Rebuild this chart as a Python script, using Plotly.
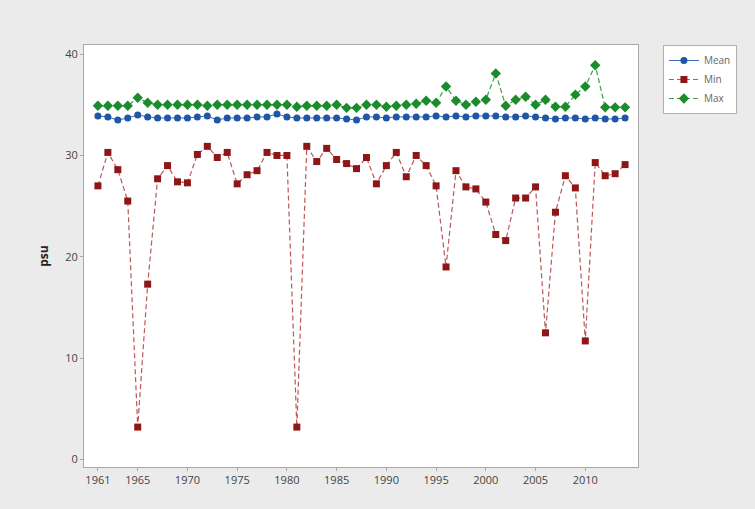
import plotly.graph_objects as go

years = [1961, 1962, 1963, 1964, 1965, 1966, 1967, 1968, 1969, 1970,
         1971, 1972, 1973, 1974, 1975, 1976, 1977, 1978, 1979, 1980,
         1981, 1982, 1983, 1984, 1985, 1986, 1987, 1988, 1989, 1990,
         1991, 1992, 1993, 1994, 1995, 1996, 1997, 1998, 1999, 2000,
         2001, 2002, 2003, 2004, 2005, 2006, 2007, 2008, 2009, 2010,
         2011, 2012, 2013, 2014]

mean_vals = [33.9, 33.8, 33.5, 33.7, 34.0, 33.8, 33.7, 33.7, 33.7, 33.7,
             33.8, 33.9, 33.5, 33.7, 33.7, 33.7, 33.8, 33.8, 34.1, 33.8,
             33.7, 33.7, 33.7, 33.7, 33.7, 33.6, 33.5, 33.8, 33.8, 33.7,
             33.8, 33.8, 33.8, 33.8, 33.9, 33.8, 33.9, 33.8, 33.9, 33.9,
             33.9, 33.8, 33.8, 33.9, 33.8, 33.7, 33.6, 33.7, 33.7, 33.6,
             33.7, 33.6, 33.6, 33.7]

min_vals = [27.0, 30.3, 28.6, 25.5, 3.2, 17.3, 27.7, 29.0, 27.4, 27.3,
            30.1, 30.9, 29.8, 30.3, 27.2, 28.1, 28.5, 30.3, 30.0, 30.0,
            3.2, 30.9, 29.4, 30.7, 29.6, 29.2, 28.7, 29.8, 27.2, 29.0,
            30.3, 27.9, 30.0, 29.0, 27.0, 19.0, 28.5, 26.9, 26.7, 25.4,
            22.2, 21.6, 25.8, 25.8, 26.9, 12.5, 24.4, 28.0, 26.8, 11.7,
            29.3, 28.0, 28.2, 29.1]

max_vals = [34.9, 34.9, 34.9, 34.9, 35.7, 35.2, 35.0, 35.0, 35.0, 35.0,
            35.0, 34.9, 35.0, 35.0, 35.0, 35.0, 35.0, 35.0, 35.0, 35.0,
            34.8, 34.9, 34.9, 34.9, 35.0, 34.7, 34.7, 35.0, 35.0, 34.8,
            34.9, 35.0, 35.1, 35.4, 35.2, 36.8, 35.4, 35.0, 35.3, 35.5,
            38.1, 34.9, 35.5, 35.8, 35.0, 35.5, 34.8, 34.8, 36.0, 36.8,
            38.9, 34.75, 34.75, 34.75]

x_ticks = [1961, 1965, 1970, 1975, 1980, 1985, 1990, 1995, 2000, 2005, 2010]
y_ticks = [0, 10, 20, 30, 40]

fig = go.Figure()
fig.add_trace(go.Scatter(
    x=years, y=mean_vals, name="Mean", mode="lines+markers",
    line=dict(color="#3a6cb8", width=1),
    marker=dict(symbol="circle", size=7, color="#1f56a8"),
))
fig.add_trace(go.Scatter(
    x=years, y=min_vals, name="Min", mode="lines+markers",
    line=dict(color="#b85858", width=1.2, dash="5px,3px"),
    marker=dict(symbol="square", size=7, color="#8e1616"),
))
fig.add_trace(go.Scatter(
    x=years, y=max_vals, name="Max", mode="lines+markers",
    line=dict(color="#3aa04a", width=1.2, dash="5px,3px"),
    marker=dict(symbol="diamond", size=8, color="#1a8c2c"),
))

fig.update_layout(
    width=755, height=509,
    margin=dict(l=84, r=117, t=45, b=42),
    paper_bgcolor="#ebebeb",
    plot_bgcolor="#ffffff",
    font=dict(family="Open Sans, Noto Sans, sans-serif", size=11, color="#444444"),
    showlegend=True,
    legend=dict(
        x=1.045, y=1.0, xanchor="left", yanchor="top",
        bgcolor="#ffffff", bordercolor="#b0b0b0", borderwidth=1,
        font=dict(size=10, color="#666666"),
        tracegroupgap=0,
    ),
    xaxis=dict(
        range=[1959.6, 2015.3],
        tickmode="array", tickvals=x_ticks, ticktext=[str(t) for t in x_ticks],
        showgrid=False, zeroline=False,
        showline=True, linecolor="#a8a8a8", linewidth=1, mirror=True,
        ticks="outside", ticklen=3, tickcolor="#a8a8a8",
    ),
    yaxis=dict(
        range=[-0.74, 40.9],
        tickmode="array", tickvals=y_ticks,
        showgrid=False, zeroline=False,
        showline=True, linecolor="#a8a8a8", linewidth=1, mirror=True,
        ticks="outside", ticklen=3, tickcolor="#a8a8a8",
        title=dict(text="<b>psu</b>", font=dict(size=12, color="#222222"), standoff=14),
    ),
)

fig.write_html("out.html", config={"displayModeBar": False},
               post_script="document.body.style.margin='0';")
